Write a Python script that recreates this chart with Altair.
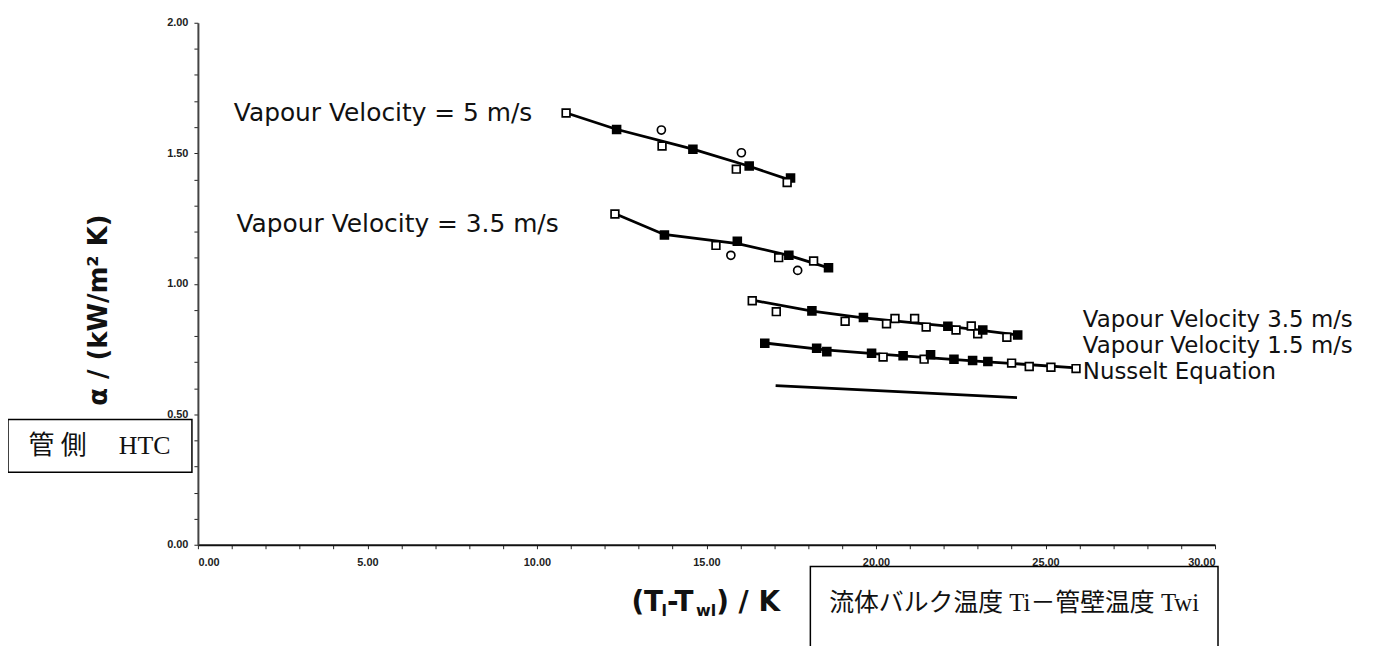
import altair as alt
import pandas as pd

# ---------------- data ----------------
# measured points  (o = open square, f = filled square, c = open circle)
x_v5 = [10.86, 12.35, 13.67, 13.69, 14.60, 16.03, 15.88, 16.26, 17.48, 17.38]
y_v5 = [1.654, 1.591, 1.589, 1.528, 1.515, 1.502, 1.439, 1.451, 1.405, 1.388]
m_v5 = ["o", "f", "c", "o", "f", "c", "o", "f", "f", "o"]

x_v35a = [12.30, 13.76, 15.28, 15.91, 15.72, 17.13, 17.43, 18.16, 17.69, 18.60]
y_v35a = [1.267, 1.187, 1.147, 1.163, 1.109, 1.100, 1.109, 1.087, 1.051, 1.061]
m_v35a = ["o", "f", "o", "f", "c", "o", "f", "o", "c", "f"]

x_v35b = [16.35, 17.06, 18.11, 19.09, 19.63, 20.31, 20.56, 21.14, 21.48, 22.12,
          22.36, 22.81, 23.00, 23.15, 23.86, 24.18]
y_v35b = [0.935, 0.893, 0.896, 0.856, 0.871, 0.847, 0.867, 0.867, 0.834, 0.837,
          0.823, 0.838, 0.808, 0.823, 0.795, 0.804]
m_v35b = ["o", "o", "f", "o", "f", "o", "o", "o", "o", "f",
          "o", "o", "o", "f", "o", "f"]

x_v15 = [16.72, 18.25, 18.55, 19.87, 20.21, 20.80, 21.42, 21.61, 22.30, 22.85,
         23.30, 24.00, 24.52, 25.16, 25.90]
y_v15 = [0.772, 0.753, 0.740, 0.734, 0.719, 0.724, 0.711, 0.728, 0.711, 0.706,
         0.702, 0.696, 0.683, 0.680, 0.675]
m_v15 = ["f", "f", "f", "f", "o", "f", "o", "f", "f", "f",
         "f", "o", "o", "o", "o"]

# fitted curves
fx_v5 = [10.85, 12.34, 14.60, 16.24, 17.54]
fy_v5 = [1.655, 1.592, 1.516, 1.451, 1.394]
fx_v35a = [12.29, 13.75, 15.92, 17.42, 18.65]
fy_v35a = [1.269, 1.189, 1.154, 1.109, 1.059]
fx_v35b = [16.36, 18.12, 19.62, 22.11, 24.16]
fy_v35b = [0.937, 0.895, 0.869, 0.838, 0.804]
fx_v15 = [16.72, 18.50, 20.79, 23.28, 25.90]
fy_v15 = [0.773, 0.747, 0.724, 0.701, 0.678]
fx_nu = [17.04, 20.50, 24.16]
fy_nu = [0.610, 0.588, 0.564]

# labels
lbl_left = ["Vapour Velocity = 5 m/s", "Vapour Velocity = 3.5 m/s"]
lbl_left_x = [1.06, 1.14]
lbl_left_y = [1.653, 1.230]
lbl_right = ["Vapour Velocity 3.5 m/s", "Vapour Velocity 1.5 m/s", "Nusselt Equation"]
lbl_right_x = [26.10, 26.10, 26.10]
lbl_right_y = [0.861, 0.762, 0.663]

x_ticks = list(range(0, 31))
y_ticks = [round(0.1 * k, 1) for k in range(0, 21)]

y_title = "α / (kW/m² K)"
box1_text = "管 側　 HTC"
box2_text = "流体バルク温度 Ti－管壁温度 Twi"

# ---------------- tables ----------------
def pts(xs, ys, ms, s):
    return pd.DataFrame({"x": xs, "y": ys, "m": ms, "s": s})

points = pd.concat([
    pts(x_v5, y_v5, m_v5, "v5"),
    pts(x_v35a, y_v35a, m_v35a, "v35a"),
    pts(x_v35b, y_v35b, m_v35b, "v35b"),
    pts(x_v15, y_v15, m_v15, "v15"),
], ignore_index=True)

def fit(xs, ys, s):
    return pd.DataFrame({"x": xs, "y": ys, "s": s})

fits = pd.concat([
    fit(fx_v5, fy_v5, "v5"),
    fit(fx_v35a, fy_v35a, "v35a"),
    fit(fx_v35b, fy_v35b, "v35b"),
    fit(fx_v15, fy_v15, "v15"),
    fit(fx_nu, fy_nu, "nu"),
], ignore_index=True)

left_df = pd.DataFrame({"t": lbl_left, "x": lbl_left_x, "y": lbl_left_y})
right_df = pd.DataFrame({"t": lbl_right, "x": lbl_right_x, "y": lbl_right_y})

FONT = "Liberation Sans, Arial, sans-serif"
WIDE = "DejaVu Sans, sans-serif"
SERIF = "Liberation Serif, Noto Sans CJK JP, serif"

xs = alt.Scale(domain=[0, 30], nice=False, zero=False)
ys = alt.Scale(domain=[0, 2], nice=False, zero=False)

x_axis = alt.Axis(
    values=x_ticks, title=None, grid=False, labelOverlap=False,
    labelExpr="datum.value % 5 === 0 ? format(datum.value, '.2f') : ''",
    tickSize=4, tickColor="#222", tickWidth=1,
    domainColor="#111", domainWidth=2,
    labelFont=FONT, labelFontSize=11, labelFontWeight="bold", labelColor="#222",
    labelPadding=8,
)
y_axis = alt.Axis(
    values=y_ticks, title=None, grid=False, labelOverlap=False,
    labelExpr="abs(datum.value*2 - round(datum.value*2)) < 0.001 ? format(datum.value, '.2f') : ''",
    tickSize=4, tickColor="#222", tickWidth=1,
    domainColor="#444", domainWidth=2,
    labelFont=FONT, labelFontSize=11, labelFontWeight="bold", labelColor="#222",
    labelPadding=6,
)

X = lambda f: alt.X(f, scale=xs, axis=x_axis)
Y = lambda f: alt.Y(f, scale=ys, axis=y_axis)

lines = alt.Chart(fits).mark_line(color="black", strokeWidth=2.8).encode(
    x=X("x:Q"), y=Y("y:Q"), detail="s:N",
)

points_layer = alt.Chart(points).mark_point(
    stroke="black", strokeWidth=1.7, opacity=1, fillOpacity=1
).encode(
    x=X("x:Q"), y=Y("y:Q"),
    shape=alt.Shape("m:N", scale=alt.Scale(domain=["o", "f", "c"],
                                           range=["square", "square", "circle"]), legend=None),
    fill=alt.Fill("m:N", scale=alt.Scale(domain=["o", "f", "c"],
                                         range=["white", "black", "white"]), legend=None),
    size=alt.Size("m:N", scale=alt.Scale(domain=["o", "f", "c"], range=[60, 65, 34]), legend=None),
)

left_text = alt.Chart(left_df).mark_text(
    align="left", baseline="middle", font=WIDE, fontSize=25, color="#111"
).encode(x=X("x:Q"), y=Y("y:Q"), text="t:N")

right_text = alt.Chart(right_df).mark_text(
    align="left", baseline="middle", font=WIDE, fontSize=23, color="#111"
).encode(x=X("x:Q"), y=Y("y:Q"), text="t:N")

# annotation boxes
box1 = alt.Chart(pd.DataFrame({"a": [0]})).mark_rect(
    fill="white", stroke="black", strokeWidth=1.5
).encode(x=alt.value(-191), x2=alt.value(-6), y=alt.value(399), y2=alt.value(452))
box1_t = alt.Chart(pd.DataFrame({"t": [box1_text]})).mark_text(
    align="center", baseline="middle", font=SERIF, fontSize=26, color="#111"
).encode(x=alt.value(-99), y=alt.value(426), text="t:N")

box2 = alt.Chart(pd.DataFrame({"a": [0]})).mark_rect(
    fill="white", stroke="black", strokeWidth=1.5
).encode(x=alt.value(616), x2=alt.value(1026), y=alt.value(547), y2=alt.value(660))
box2_t = alt.Chart(pd.DataFrame({"t": [box2_text]})).mark_text(
    align="center", baseline="middle", font=SERIF, fontSize=25, color="#111"
).encode(x=alt.value(821), y=alt.value(584), text="t:N")

# y axis title
ytitle = alt.Chart(pd.DataFrame({"t": [y_title]})).mark_text(
    angle=270, align="center", baseline="middle", font=WIDE, fontSize=26,
    fontWeight="bold", color="#111"
).encode(x=alt.value(-99), y=alt.value(289), text="t:N")

# x axis title "(T_l - T_wl) / K" built from pieces
xt_parts = ["(T", "l", "-T", "wl", ") / K"]
xt_sub = [False, True, False, True, False]
W = {"(": 457, ")": 457, "T": 682, "-": 415, "l": 343, "w": 924, " ": 348, "/": 365, "K": 775}
big, small = 28, 16
cur = 436.0
rows = []
for p, sub in zip(xt_parts, xt_sub):
    fs = small if sub else big
    rows.append({"t": p, "px": cur, "py": 592 if sub else 584, "fs": fs})
    cur += sum(W[c] for c in p) * fs / 1000.0 * (0.95 if not sub else 1.0)
xt_df = pd.DataFrame(rows)
xtitle_big = alt.Chart(xt_df[xt_df.fs == big]).mark_text(
    align="left", baseline="middle", font=WIDE, fontSize=big, fontWeight="bold", color="#111"
).encode(x=alt.X("px:Q", scale=None), y=alt.Y("py:Q", scale=None), text="t:N")
xtitle_small = alt.Chart(xt_df[xt_df.fs == small]).mark_text(
    align="left", baseline="middle", font=WIDE, fontSize=small, fontWeight="bold", color="#111"
).encode(x=alt.X("px:Q", scale=None), y=alt.Y("py:Q", scale=None), text="t:N")

chart = alt.layer(
    lines, points_layer, left_text, right_text, box1, box1_t, box2, box2_t,
    ytitle, xtitle_big, xtitle_small
).resolve_scale(x="shared", y="shared").properties(
    width=1023, height=525,
    autosize=alt.AutoSizeParams(type="none"),
    padding={"left": 191, "top": 13, "right": 178, "bottom": 100},
    background="white",
).configure_view(stroke=None)

chart.save("out.html", embed_options={"renderer": "svg", "actions": False})
